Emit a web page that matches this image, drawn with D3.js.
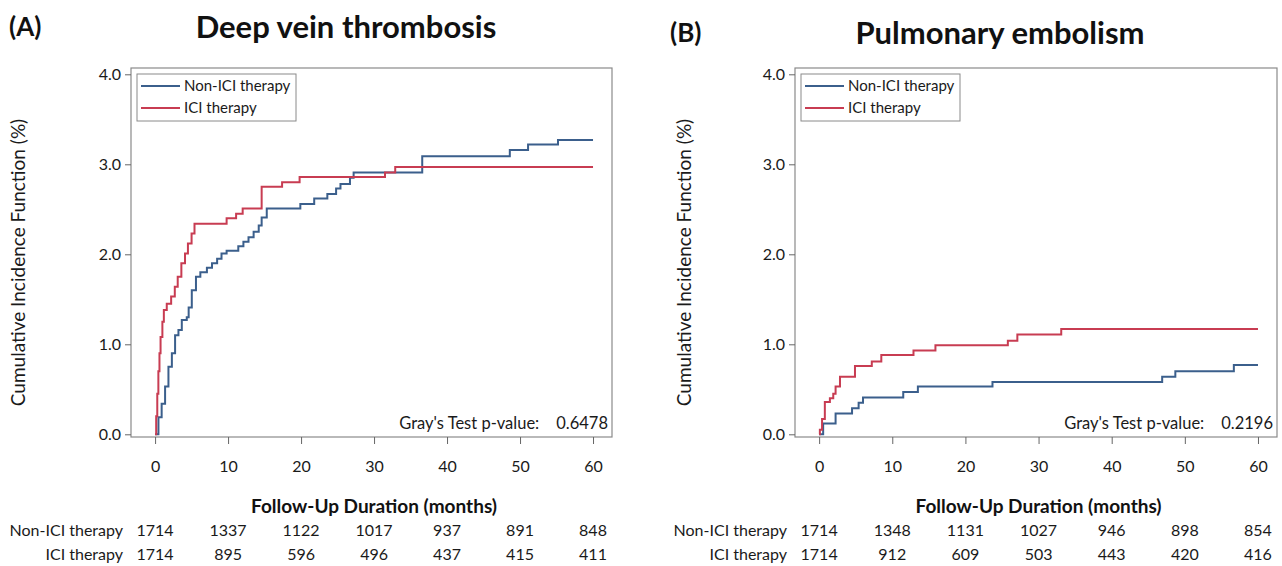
<!DOCTYPE html>
<html>
<head>
<meta charset="utf-8">
<script src="https://cdn.jsdelivr.net/npm/d3@7"></script>
<style>
  body { margin: 0; background: #fff; }
  svg { display: block; }
  .tick text { font-family: Lato, "Open Sans", sans-serif; font-size: 16px; fill: #1a1a1a; }
  .tick line { stroke: #666; }
</style>
</head>
<body>
<svg id="chart" width="1282" height="566"></svg>
<script>
// step data: [months, cumulative incidence %]
var dvtNonIci = [[0,0],[0.46,0.19],[0.9,0.34],[1.37,0.53],[1.83,0.75],[2.3,0.9],[2.74,1.10],[3.2,1.16],[3.66,1.27],[4.34,1.30],[4.6,1.41],[5.03,1.60],[5.6,1.75],[6.2,1.80],[7.1,1.85],[7.8,1.90],[8.5,1.95],[9.1,2.01],[9.8,2.04],[11.4,2.09],[12.1,2.14],[12.8,2.19],[13.5,2.25],[14.2,2.32],[14.6,2.41],[15.3,2.51],[19.9,2.56],[21.8,2.62],[23.6,2.67],[24.8,2.73],[25.4,2.78],[26.7,2.85],[27.2,2.91],[36.6,3.09],[48.6,3.16],[51.1,3.22],[55.2,3.27],[60,3.27]];
var dvtIci = [[0,0],[0.15,0.2],[0.3,0.45],[0.45,0.7],[0.6,0.9],[0.75,1.08],[1.0,1.25],[1.2,1.38],[1.6,1.45],[2.2,1.53],[2.7,1.64],[3.1,1.75],[3.6,1.9],[4.1,2.01],[4.5,2.12],[5.0,2.23],[5.4,2.34],[9.8,2.40],[11.1,2.45],[12.0,2.51],[14.6,2.75],[17.4,2.80],[19.8,2.86],[31.5,2.91],[32.9,2.97],[60,2.97]];
var peNonIci = [[0,0],[0.55,0.12],[2.25,0.23],[4.5,0.29],[5.4,0.35],[6.0,0.41],[11.5,0.47],[13.5,0.53],[23.7,0.58],[46.9,0.64],[48.7,0.70],[56.7,0.77],[60,0.77]];
var peIci = [[0,0],[0.1,0.05],[0.4,0.17],[0.78,0.36],[1.47,0.40],[1.93,0.45],[2.25,0.53],[2.85,0.64],[4.9,0.76],[7.2,0.81],[8.5,0.88],[12.9,0.93],[15.9,0.99],[25.8,1.04],[27.1,1.11],[33.1,1.17],[60,1.17]];

var xTicks = [0,10,20,30,40,50,60];
var yTicks = [0,1,2,3,4];
var groups = ["Non-ICI therapy","ICI therapy"];
var dvtRiskNonIci = [1714,1337,1122,1017,937,891,848];
var dvtRiskIci = [1714,895,596,496,437,415,411];
var peRiskNonIci = [1714,1348,1131,1027,946,898,854];
var peRiskIci = [1714,912,609,503,443,420,416];

var colors = ["#3b5f8c","#c83c52"];
var font = "Lato, 'Open Sans', sans-serif";

var panels = [
  {tag:"(A)", title:"Deep vein thrombosis", left:131, right:612, tagX:9, tagY:27, titleX:346, titleY:27,
   series:[dvtNonIci, dvtIci], risk:[dvtRiskNonIci, dvtRiskIci], pval:"0.6478", ylabX:18},
  {tag:"(B)", title:"Pulmonary embolism", left:795, right:1277, tagX:670, tagY:33, titleX:1000, titleY:33,
   series:[peNonIci, peIci], risk:[peRiskNonIci, peRiskIci], pval:"0.2196", ylabX:684}
];

var svg = d3.select("#chart");
var plotTop = 68, plotBottom = 437;

panels.forEach(function(p){
  var g = svg.append("g");
  var x = d3.scaleLinear().domain([-3.3, 62.6]).range([p.left, p.right]);
  var y = d3.scaleLinear().domain([-0.03, 4.07]).range([plotBottom, plotTop]);

  // titles
  g.append("text").attr("x", p.tagX).attr("y", p.tagY).attr("dy","0.35em")
    .style("font-family", font).style("font-weight","bold").style("font-size","26px").style("fill","#111")
    .text(p.tag);
  g.append("text").attr("x", p.titleX).attr("y", p.titleY).attr("dy","0.35em")
    .attr("text-anchor","middle")
    .style("font-family", font).style("font-weight","bold").style("font-size","31px").style("fill","#111")
    .text(p.title);

  // frame
  g.append("rect").attr("x", p.left).attr("y", plotTop)
    .attr("width", p.right - p.left).attr("height", plotBottom - plotTop)
    .attr("fill","none").attr("stroke","#8a8a8a").attr("stroke-width",1.2);

  // axes
  var ya = g.append("g").attr("transform","translate(" + p.left + ",0)")
    .call(d3.axisLeft(y).tickValues(yTicks).tickFormat(d3.format(".1f")).tickSize(6).tickPadding(4));
  ya.select(".domain").remove();
  var xa = g.append("g").attr("transform","translate(0," + plotBottom + ")")
    .call(d3.axisBottom(x).tickValues(xTicks).tickSize(7).tickPadding(17));
  xa.select(".domain").remove();

  // y label
  g.append("text")
    .attr("transform","translate(" + p.ylabX + "," + ((plotTop + plotBottom) / 2 + 10) + ") rotate(-90)")
    .attr("text-anchor","middle").attr("dy","0.35em")
    .style("font-family", font).style("font-size","19px").style("fill","#1a1a1a")
    .text("Cumulative Incidence Function (%)");

  // curves
  var line = d3.line()
    .x(function(d){ return x(d[0]); })
    .y(function(d){ return y(d[1]); })
    .curve(d3.curveStepAfter);
  p.series.forEach(function(s, i){
    g.append("path").datum(s)
      .attr("fill","none").attr("stroke", colors[i]).attr("stroke-width",2)
      .attr("d", line);
  });

  // legend
  var lg = g.append("g").attr("transform","translate(" + (p.left + 6) + "," + (plotTop + 6) + ")");
  lg.append("rect").attr("width",159).attr("height",47)
    .attr("fill","#fff").attr("stroke","#8a8a8a").attr("stroke-width",1);
  groups.forEach(function(name, i){
    var yy = 12 + i * 22;
    lg.append("line").attr("x1",4).attr("x2",43).attr("y1",yy).attr("y2",yy)
      .attr("stroke", colors[i]).attr("stroke-width",2);
    lg.append("text").attr("x",47).attr("y",yy).attr("dy","0.35em")
      .style("font-family", font).style("font-size","15px").style("fill","#1a1a1a")
      .text(name);
  });

  // Gray's test
  var pt = g.append("text").attr("x", p.right - 4).attr("y", 423).attr("dy","0.35em")
    .attr("text-anchor","end")
    .style("font-family", font).style("font-size","16.5px").style("fill","#1a1a1a");
  pt.append("tspan").text("Gray's Test p-value:");
  pt.append("tspan").attr("dx", 17).text(p.pval);

  // x label
  g.append("text").attr("x", (x(0) + x(60)) / 2).attr("y", 506).attr("dy","0.35em")
    .attr("text-anchor","middle")
    .style("font-family", font).style("font-weight","bold").style("font-size","19px").style("fill","#111")
    .text("Follow-Up Duration (months)");

  // number at risk
  groups.forEach(function(name, i){
    var yy = 530 + i * 24;
    g.append("text").attr("x", p.left - 8).attr("y", yy).attr("dy","0.35em")
      .attr("text-anchor","end")
      .style("font-family", font).style("font-size","16px").style("fill","#1a1a1a")
      .text(name);
    g.selectAll(null).data(p.risk[i]).enter().append("text")
      .attr("x", function(d, j){ return x(xTicks[j]); })
      .attr("y", yy).attr("dy","0.35em").attr("text-anchor","middle")
      .style("font-family", font).style("font-size","16px").style("fill","#1a1a1a")
      .text(function(d){ return d; });
  });
});
</script>
</body>
</html>
